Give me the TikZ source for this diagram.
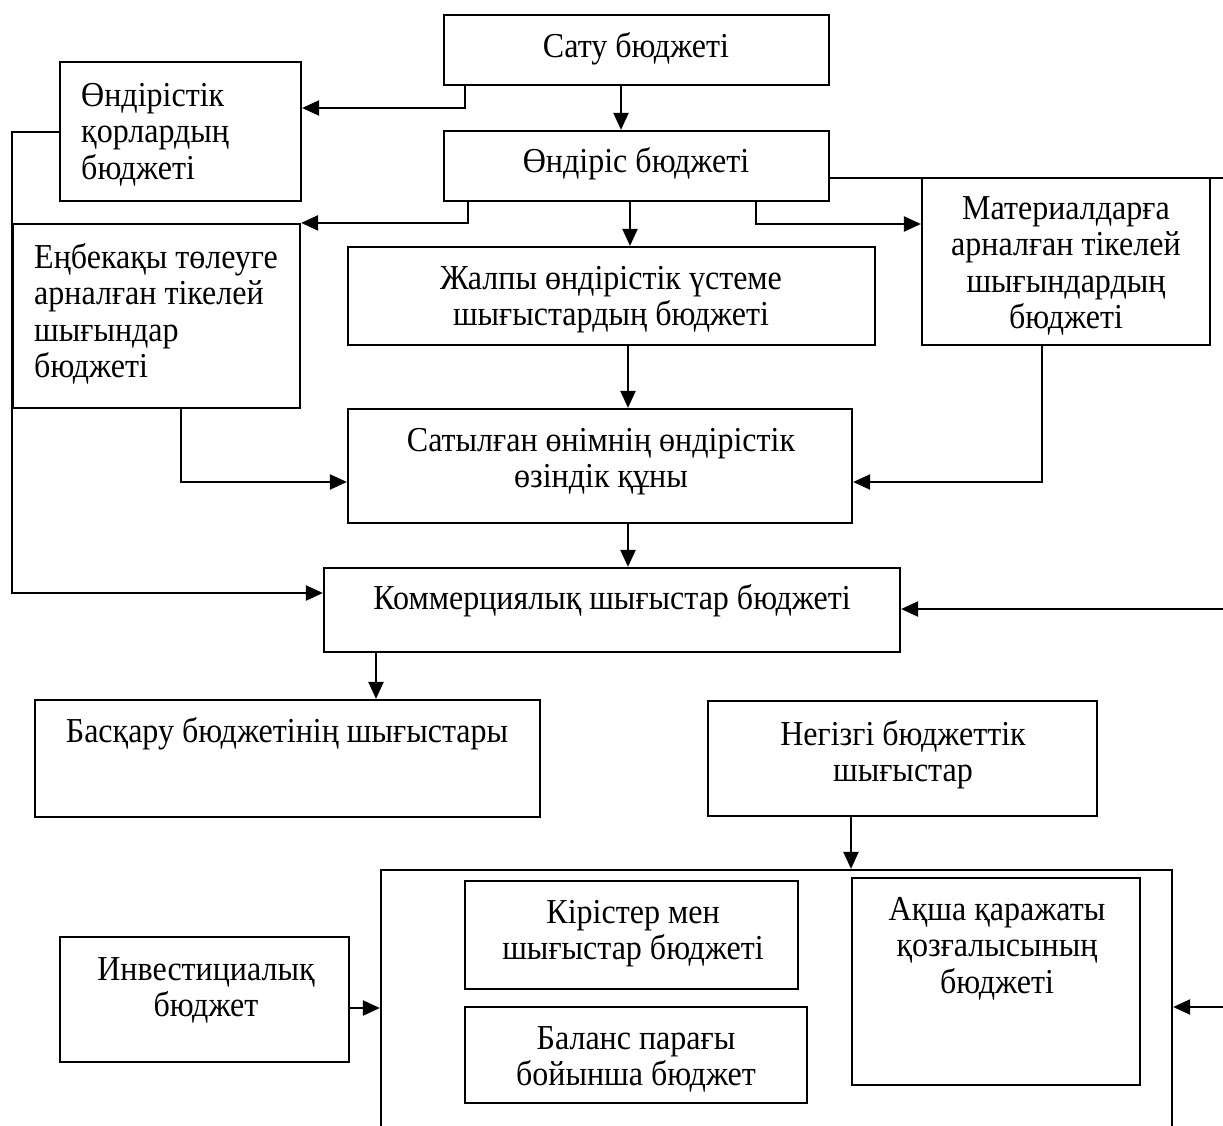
\documentclass[tikz,border=0pt]{standalone}
\usepackage{fontspec}
\setmainfont{Liberation Serif}
\newfontfamily\tallfont[FakeStretch=0.915]{Liberation Serif}
\usetikzlibrary{arrows.meta,fit}
\begin{document}
\begin{tikzpicture}[x=1pt,y=-1pt,
  box/.style={draw, line width=2.2pt, inner sep=0pt, rectangle},
  txt/.style={inner sep=0pt, font=\tallfont\fontsize{35}{36.5}\selectfont},
  conn/.style={line width=2.2pt},
  arr/.style={conn, -{Triangle[length=17pt,width=15pt]}}]
\useasboundingbox (0,0) rectangle (1223,1126);
\clip (0,0) rectangle (1223,1126);
% boxes
\node[box, fit={(444,15)(829,85)}] (sat) {};
\node[box, fit={(60,62)(301,201)}] (kor) {};
\node[box, fit={(444,131)(829,201)}] (ond) {};
\node[box, fit={(13,224)(300,408)}] (enb) {};
\node[box, fit={(348,247)(875,345)}] (zhal) {};
\node[box, fit={(922,178)(1210,345)}] (mat) {};
\node[box, fit={(348,409)(852,523)}] (satyl) {};
\node[box, fit={(324,568)(900,652)}] (kom) {};
\node[box, fit={(35,700)(540,817)}] (bask) {};
\node[box, fit={(708,701)(1097,816)}] (neg) {};
\node[box, fit={(381,870)(1172,1150)}] (big) {};
\node[box, fit={(465,881)(798,989)}] (kir) {};
\node[box, fit={(465,1007)(807,1103)}] (bal) {};
\node[box, fit={(852,878)(1140,1085)}] (aksha) {};
\node[box, fit={(60,937)(349,1062)}] (inv) {};
% texts
\node[txt, anchor=base] (tSat) at (636,58) {Сату бюджеті};
\node[txt, anchor=north west, align=left] (tKor) at (81,83) {Өндірістік\\қорлардың\\бюджеті};
\node[txt, anchor=base] (tOnd) at (636,173) {Өндіріс бюджеті};
\node[txt, anchor=north west, align=left] (tEnb) at (34,243) {Еңбекақы төлеуге\\арналған тікелей\\шығындар\\бюджеті};
\node[txt, anchor=north, align=center] (tZhal) at (611,266) {Жалпы өндірістік үстеме\\шығыстардың бюджеті};
\node[txt, anchor=north, align=center] (tMat) at (1066,196) {Материалдарға\\арналған тікелей\\шығындардың\\бюджеті};
\node[txt, anchor=north, align=center] (tSatyl) at (601,428) {Сатылған өнімнің өндірістік\\өзіндік құны};
\node[txt, anchor=base] (tKom) at (612,609) {Коммерциялық шығыстар бюджеті};
\node[txt, anchor=base] (tBask) at (287,742) {Басқару бюджетінің шығыстары};
\node[txt, anchor=north, align=center] (tNeg) at (903,720) {Негізгі бюджеттік\\шығыстар};
\node[txt, anchor=north, align=center] (tKir) at (633,900) {Кірістер мен\\шығыстар бюджеті};
\node[txt, anchor=north, align=center] (tBal) at (636,1026) {Баланс парағы\\бойынша бюджет};
\node[txt, anchor=north, align=center] (tAk) at (997,897) {Ақша қаражаты\\қозғалысының\\бюджеті};
\node[txt, anchor=north, align=center] (tInv) at (206,957) {Инвестициалық\\бюджет};
% free ends at the right edge
\coordinate (eA) at (1235,178);
\coordinate (eB) at (1235,609);
\coordinate (eC) at (1235,1007);
% connectors
\draw[arr] (sat.south -| 621,0) -- (ond.north -| 621,0);
\draw[arr] (sat.south -| 465,0) |- (kor.east |- 0,108);
\draw[arr] (kor.west |- 0,132) -- (12,132) -- (12,593) -- (kom.west |- 0,593);
\draw[arr] (ond.south -| 468,0) |- (enb.north east);
\draw[arr] (ond.south -| 630,0) -- (zhal.north -| 630,0);
\draw[arr] (ond.south -| 756,0) |- (mat.west |- 0,224);
\draw[conn] (ond.east |- eA) -- (eA);
\draw[arr] (eB) -- (kom.east |- eB);
\draw[arr] (zhal.south -| 628,0) -- (satyl.north -| 628,0);
\draw[arr] (enb.south -| 181,0) |- (satyl.west |- 0,482);
\draw[arr] (mat.south -| 1042,0) |- (satyl.east |- 0,482);
\draw[arr] (satyl.south -| 628,0) -- (kom.north -| 628,0);
\draw[arr] (kom.south -| 376,0) -- (bask.north -| 376,0);
\draw[arr] (neg.south -| 851,0) -- (big.north -| 851,0);
\draw[arr] (inv.east |- 0,1008) -- (big.west |- 0,1008);
\draw[arr] (eC) -- (big.east |- eC);
\end{tikzpicture}
\end{document}
